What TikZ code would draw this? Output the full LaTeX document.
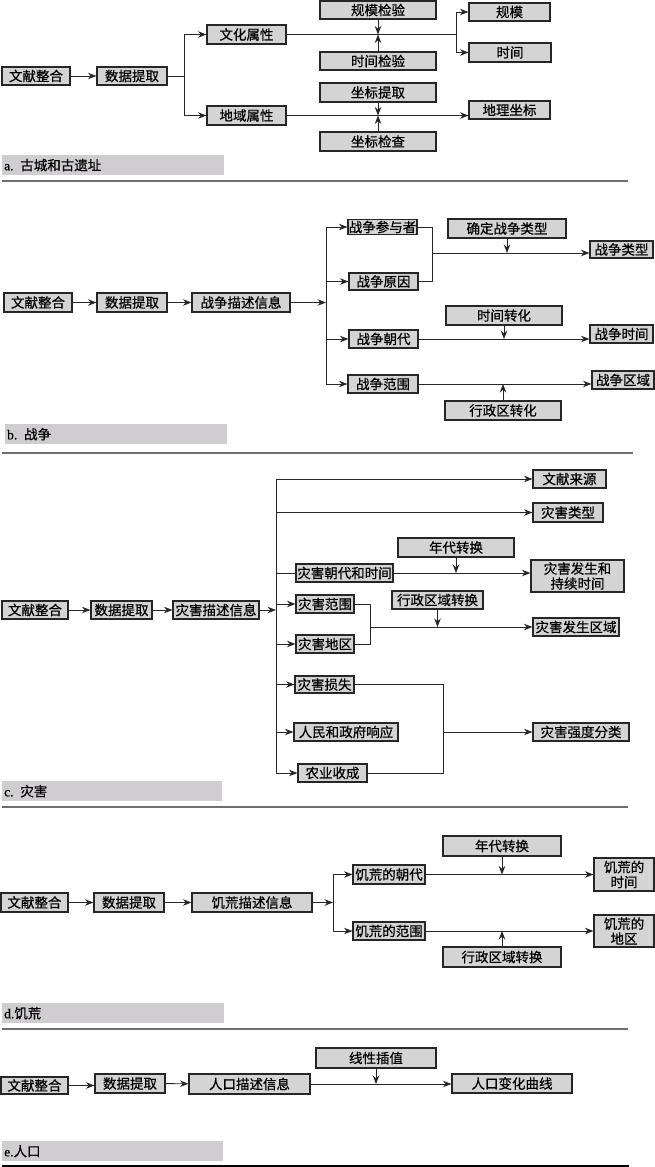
\documentclass[tikz,border=0pt]{standalone}
\usepackage{fontspec}
\setmainfont{Liberation Serif}
\newfontfamily\cjk[FakeBold=0.6]{Noto Sans CJK SC}
\newfontfamily\lat[FakeBold=0.4]{Liberation Serif}
\usetikzlibrary{arrows.meta}
\definecolor{boxfill}{RGB}{212,212,212}
\definecolor{capfill}{RGB}{207,205,208}
\definecolor{sepgray}{RGB}{110,110,110}
\begin{document}
\begin{tikzpicture}[x=1pt,y=-1pt,
  bx/.style={draw=black!85, line width=1.1pt, fill=boxfill, inner sep=0pt,
    font=\cjk\fontsize{13.5}{15}\selectfont, align=center},
  ln/.style={draw=black!85, line width=0.9pt},
  ar/.style={ln, -{Stealth[length=8.5pt,width=6.5pt]}},
  capbox/.style={fill=capfill, inner sep=0pt, inner xsep=2pt, anchor=north west,
    minimum height=20, text width=218, align=left,
    font=\cjk\fontsize{13.5}{15}\selectfont},
  sepline/.style={draw=sepgray, line width=1.2pt}]
\useasboundingbox (0,0) rectangle (655,1167);

% ---------------- a ----------------
\node[bx, minimum width=68, minimum height=18] (a1) at (36,76) {文献整合};
\node[bx, minimum width=70, minimum height=18] (a2) at (132,76) {数据提取};
\node[bx, minimum width=79, minimum height=19] (a3) at (246.5,34.5) {文化属性};
\node[bx, minimum width=79, minimum height=19] (a4) at (246.5,115.5) {地域属性};
\node[bx, minimum width=116, minimum height=18] (a5) at (378,10) {规模检验};
\node[bx, minimum width=116, minimum height=18] (a6) at (378,61) {时间检验};
\node[bx, minimum width=81, minimum height=18] (a7) at (509.5,12) {规模};
\node[bx, minimum width=82, minimum height=19] (a8) at (510,52.5) {时间};
\node[bx, minimum width=116, minimum height=19] (a9) at (378,92.5) {坐标提取};
\node[bx, minimum width=116, minimum height=19] (a10) at (378,141.5) {坐标检查};
\node[bx, minimum width=81, minimum height=18] (a11) at (509.5,110) {地理坐标};
\node[capbox, minimum width=222] (capa) at (2,155) {{\lat a.} 古城和古遗址};

\coordinate (ka) at (184,76);
\coordinate (ja) at (456,34.5);
\draw[ar] (a1) -- (a2);
\draw[ln] (a2.east) -- (ka);
\draw[ar] (ka) |- (a3.west);
\draw[ar] (ka) |- (a4.west);
\draw[ln] (a3.east) -- (ja);
\draw[ar] (ja) |- (a7.west);
\draw[ar] (ja) |- (a8.west);
\draw[ar] (a5.south) -- (a5.south |- a3.east);
\draw[ar] (a6.north) -- (a6.north |- a3.east);
\draw[ar] (a4.east) -- (a11.west |- a4.east);
\draw[ar] (a9.south) -- (a9.south |- a4.east);
\draw[ar] (a10.north) -- (a10.north |- a4.east);
\draw[sepline] (2,181) -- (628,181);

% ---------------- b ----------------
\node[bx, minimum width=68, minimum height=19] (b1) at (38,302.5) {文献整合};
\node[bx, minimum width=70, minimum height=19] (b2) at (132,302.5) {数据提取};
\node[bx, minimum width=98, minimum height=19] (b3) at (241,302.5) {战争描述信息};
\node[bx, minimum width=69, minimum height=15] (b4) at (382.5,227) {战争参与者};
\node[bx, minimum width=69, minimum height=17] (b5) at (383.5,281.5) {战争原因};
\node[bx, minimum width=69, minimum height=18] (b6) at (383.5,339) {战争朝代};
\node[bx, minimum width=70, minimum height=18] (b7) at (383,384) {战争范围};
\node[bx, minimum width=118, minimum height=19] (b8) at (507,228.5) {确定战争类型};
\node[bx, minimum width=63, minimum height=17] (b9) at (621.5,249.5) {战争类型};
\node[bx, minimum width=116, minimum height=19] (b10) at (504,315.5) {时间转化};
\node[bx, minimum width=63, minimum height=18] (b11) at (621.5,334) {战争时间};
\node[bx, minimum width=62, minimum height=18] (b12) at (623,380) {战争区域};
\node[bx, minimum width=116, minimum height=19] (b13) at (503,410.5) {行政区转化};
\node[capbox, minimum width=222] (capb) at (5,424) {{\lat b.} 战争};

\coordinate (kb) at (326,302.5);
\coordinate (mb) at (432,253);
\draw[ar] (b1) -- (b2);
\draw[ar] (b2) -- (b3);
\draw[ar] (b3.east) -- (kb);
\draw[ln] (kb |- b4.west) -- (kb |- b7.west);
\draw[ar] (kb |- b4.west) -- (b4.west);
\draw[ar] (kb |- b5.west) -- (b5.west);
\draw[ar] (kb |- b6.west) -- (b6.west);
\draw[ar] (kb |- b7.west) -- (b7.west);
\draw[ln] (b4.east) -| (mb);
\draw[ln] (b5.east) -| (mb);
\draw[ar] (mb) -- (b9.west |- mb);
\draw[ar] (b8.south) -- (b8.south |- mb);
\draw[ar] (b6.east) -- (b11.west |- b6.east);
\draw[ar] (b10.south) -- (b10.south |- b6.east);
\draw[ar] (b7.east) -- (b12.west |- b7.east);
\draw[ar] (b13.north) -- (b13.north |- b7.east);
\draw[sepline] (2,453) -- (633,453);

% ---------------- c ----------------
\node[bx, minimum width=66, minimum height=18] (c1) at (35,610) {文献整合};
\node[bx, minimum width=61, minimum height=18] (c2) at (121.5,610) {数据提取};
\node[bx, minimum width=86, minimum height=18] (c3) at (216,610) {灾害描述信息};
\node[bx, minimum width=73, minimum height=18] (c4) at (569.5,479) {文献来源};
\node[bx, minimum width=70, minimum height=19] (c5) at (568,512.5) {灾害类型};
\node[bx, minimum width=116, minimum height=19] (c6) at (456,547.5) {年代转换};
\node[bx, minimum width=97, minimum height=18] (c7) at (344.5,573) {灾害朝代和时间};
\node[bx, minimum width=93, minimum height=32] (c8) at (577.5,576) {灾害发生和\\持续时间};
\node[bx, minimum width=58, minimum height=18] (c9) at (325,604) {灾害范围};
\node[bx, minimum width=58, minimum height=18] (c10) at (325,644) {灾害地区};
\node[bx, minimum width=86, minimum height=18] (c11) at (576,627) {灾害发生区域};
\node[bx, minimum width=91, minimum height=18] (c12) at (437.5,600) {行政区域转换};
\node[bx, minimum width=59, minimum height=17] (c13) at (324.5,684.5) {灾害损失};
\node[bx, minimum width=104, minimum height=18] (c14) at (346,732) {人民和政府响应};
\node[bx, minimum width=69, minimum height=18] (c15) at (332.5,773) {农业收成};
\node[bx, minimum width=96, minimum height=18] (c16) at (581,732) {灾害强度分类};
\node[capbox, minimum width=220, text width=216] (capc) at (2,781) {{\lat c.} 灾害};

\coordinate (kc) at (276,610);
\coordinate (mc) at (370,627);
\coordinate (md) at (443,732);
\draw[ar] (c1) -- (c2);
\draw[ar] (c2) -- (c3);
\draw[ar] (c3.east) -- (kc);
\draw[ln] (kc |- c4.west) -- (kc |- c15.west);
\draw[ar] (kc |- c4.west) -- (c4.west);
\draw[ar] (kc |- c5.west) -- (c5.west);
\draw[ln] (kc |- c7.west) -- (c7.west);
\draw[ar] (kc |- c9.west) -- (c9.west);
\draw[ar] (kc |- c10.west) -- (c10.west);
\draw[ar] (kc |- c13.west) -- (c13.west);
\draw[ar] (kc |- c14.west) -- (c14.west);
\draw[ar] (kc |- c15.west) -- (c15.west);
\draw[ar] (c7.east) -- (c8.west |- c7.east);
\draw[ar] (c6.south) -- (c6.south |- c7.east);
\draw[ln] (c9.east) -| (mc);
\draw[ln] (c10.east) -| (mc);
\draw[ar] (mc) -- (c11.west);
\draw[ar] (c12.south) -- (c12.south |- mc);
\draw[ln] (c13.east) -| (md);
\draw[ln] (c15.east) -| (md);
\draw[ar] (md) -- (c16.west);
\draw[sepline] (2,807) -- (628,807);

% ---------------- d ----------------
\node[bx, minimum width=67, minimum height=19] (d1) at (34.5,902.5) {文献整合};
\node[bx, minimum width=70, minimum height=19] (d2) at (129,902.5) {数据提取};
\node[bx, minimum width=120, minimum height=19] (d3) at (252,902.5) {饥荒描述信息};
\node[bx, minimum width=72, minimum height=19] (d4) at (389,874.5) {饥荒的朝代};
\node[bx, minimum width=72, minimum height=18] (d5) at (389,931) {饥荒的范围};
\node[bx, minimum width=118, minimum height=20] (d6) at (502,846) {年代转换};
\node[bx, minimum width=60, minimum height=33] (d7) at (624,874.5) {饥荒的\\时间};
\node[bx, minimum width=60, minimum height=32] (d8) at (624,931) {饥荒的\\地区};
\node[bx, minimum width=118, minimum height=20] (d9) at (502,957) {行政区域转换};
\node[capbox, minimum width=222] (capd) at (2,1003) {{\lat d.}饥荒};

\coordinate (kd) at (333,902.5);
\draw[ar] (d1) -- (d2);
\draw[ar] (d2) -- (d3);
\draw[ar] (d3.east) -- (kd);
\draw[ln] (kd |- d4.west) -- (kd |- d5.west);
\draw[ar] (kd |- d4.west) -- (d4.west);
\draw[ar] (kd |- d5.west) -- (d5.west);
\draw[ar] (d4.east) -- (d7.west |- d4.east);
\draw[ar] (d6.south) -- (d6.south |- d4.east);
\draw[ar] (d5.east) -- (d8.west |- d5.east);
\draw[ar] (d9.north) -- (d9.north |- d5.east);
\draw[sepline] (2,1029) -- (628,1029);

% ---------------- e ----------------
\node[bx, minimum width=67, minimum height=17] (e1) at (34.5,1085.5) {文献整合};
\node[bx, minimum width=70, minimum height=19] (e2) at (130,1083.5) {数据提取};
\node[bx, minimum width=121, minimum height=20] (e3) at (249.5,1084) {人口描述信息};
\node[bx, minimum width=120, minimum height=20] (e4) at (376,1058) {线性插值};
\node[bx, minimum width=120, minimum height=19] (e5) at (512,1083.5) {人口变化曲线};
\node[capbox, minimum width=221, text width=217] (cape) at (2,1141) {{\lat e.}人口};

\draw[ar] (e1.east) -- (e2.west |- e1.east);
\draw[ar] (e2) -- (e3);
\draw[ar] (e3.east) -- (e5.west |- e3.east);
\draw[ar] (e4.south) -- (e4.south |- e3.east);
\draw[draw=black, line width=2pt] (2,1166) -- (629,1166);
\end{tikzpicture}
\end{document}
